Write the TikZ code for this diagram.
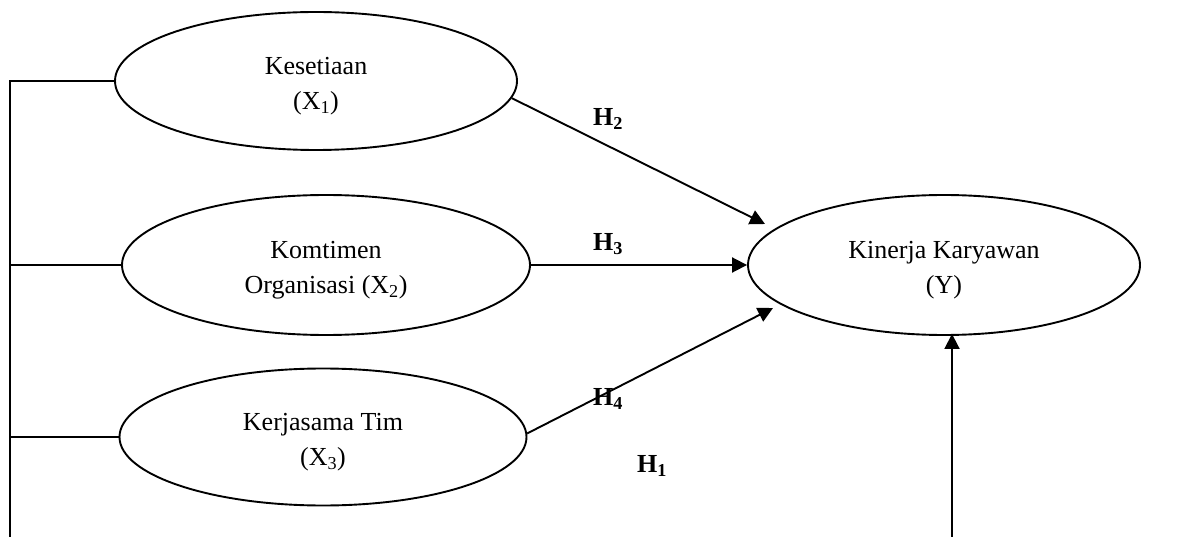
\documentclass[tikz,border=0pt]{standalone}
\usepackage{fontspec}
\setmainfont{Liberation Serif}
\usetikzlibrary{shapes.geometric,arrows.meta}
\begin{document}
\begin{tikzpicture}[x=1pt,y=-1pt,
  latent/.style={ellipse,draw,line width=1.9pt,inner sep=0pt,align=center,
    font=\fontsize{26}{35}\selectfont},
  conn/.style={line width=1.9pt},
  arr/.style={line width=1.9pt,-{Triangle[length=15pt,width=15pt]}},
  hlab/.style={font=\fontsize{26}{30}\selectfont\bfseries,inner sep=0pt}]
\useasboundingbox (0,0) rectangle (1185,537);
\newcommand{\up}{\rule{0pt}{28pt}}
\node[latent,minimum width=402pt,minimum height=138pt] (k1) at (316,81) {\up Kesetiaan\\(X\textsubscript{1})};
\node[latent,minimum width=408pt,minimum height=140pt] (k2) at (326,265) {\up Komtimen\\Organisasi (X\textsubscript{2})};
\node[latent,minimum width=407pt,minimum height=137pt] (k3) at (323,437) {\up Kerjasama Tim\\(X\textsubscript{3})};
\node[latent,minimum width=392pt,minimum height=140pt] (ky) at (944,265) {\up Kinerja Karyawan\\(Y)};
\coordinate (lb) at (10,537);
\coordinate (rb) at (952,537);
\coordinate (t2) at (765,224);
\coordinate (t4) at (773,308);
\draw[conn] (k1.west) -| (lb);
\draw[conn] (k2.west) -- (k2.west -| lb);
\draw[conn] (k3.west) -- (k3.west -| lb);
\draw[arr] (k1.-5) -- (t2);
\draw[arr] (k2.east) -- (ky.west);
\draw[arr] (k3.1.5) -- (t4);
\draw[arr] (rb) -- ([yshift=2pt]rb |- ky.south);
\node[hlab] (h2) at (608,119) {H\textsubscript{2}};
\node[hlab] (h3) at (608,244) {H\textsubscript{3}};
\node[hlab] (h4) at (608,399) {H\textsubscript{4}};
\node[hlab] (h1) at (652,466) {H\textsubscript{1}};
\end{tikzpicture}
\end{document}
